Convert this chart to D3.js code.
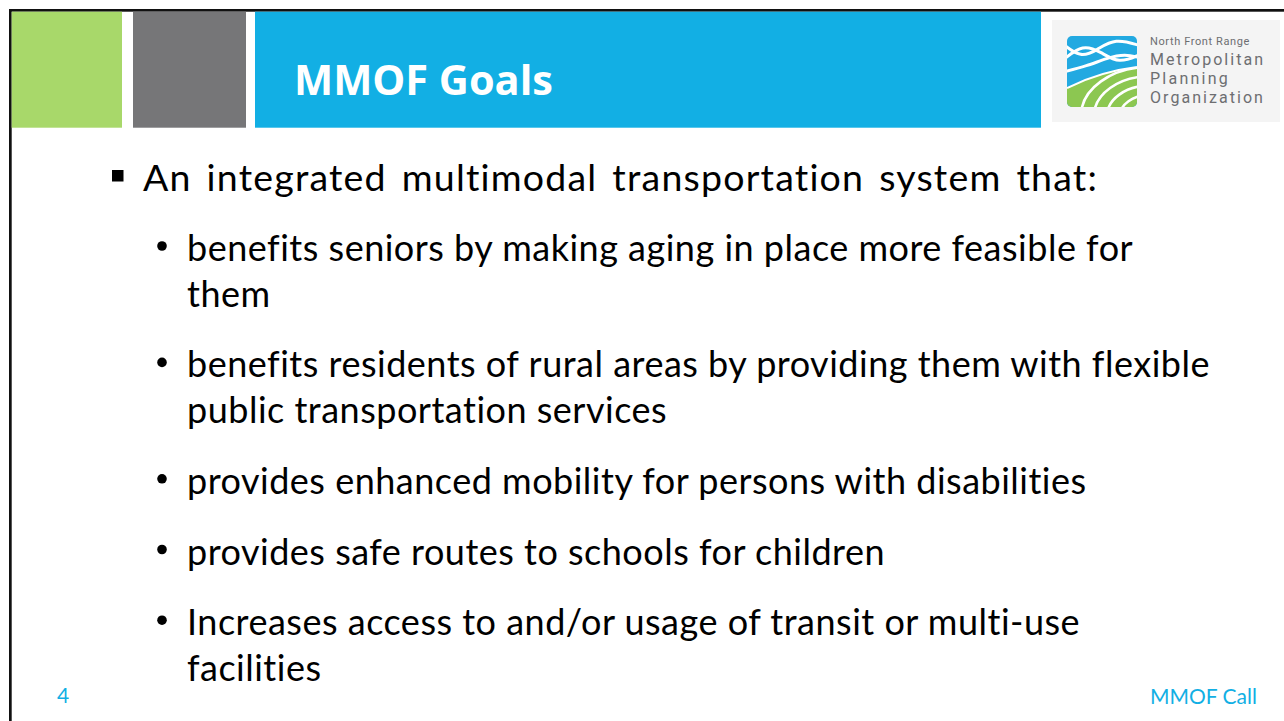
<!DOCTYPE html>
<html>
<head>
<meta charset="utf-8">
<script src="https://cdn.jsdelivr.net/npm/d3@7"></script>
<style>
  body { margin: 0; background: #fff; overflow: hidden; }
  text { font-variant-ligatures: none; }
</style>
</head>
<body>
<script>
const W = 1284, H = 721;

// slide content
const title = "MMOF Goals";
const headline = "An integrated multimodal transportation system that:";
const goals = [
  ["benefits seniors by making aging in place more feasible for", "them"],
  ["benefits residents of rural areas by providing them with flexible", "public transportation services"],
  ["provides enhanced mobility for persons with disabilities"],
  ["provides safe routes to schools for children"],
  ["Increases access to and/or usage of transit or multi-use", "facilities"]
];
const pageNumber = "4";
const footer = "MMOF Call";
const orgLines = ["North Front Range", "Metropolitan", "Planning", "Organization"];

const BLUE = "#12afe4";
const bodyFont = "Lato, 'Open Sans', sans-serif";

const svg = d3.select("body").append("svg")
  .attr("width", W)
  .attr("height", H)
  .attr("viewBox", [0, 0, W, H]);

// fit a text element's font-size so its length equals target
function fitTo(sel, target) {
  const base = 40;
  sel.attr("font-size", base);
  const w = sel.node().getComputedTextLength();
  const size = base * target / w;
  sel.attr("font-size", size);
  return size;
}

// letter-spacing that stretches/squeezes a text to target width
function spacingFor(sel, target) {
  const w = sel.node().getComputedTextLength();
  const n = sel.text().length;
  return (target - w) / n;
}

// frame lines (top + left)
svg.append("rect").attr("x", 9).attr("y", 9).attr("width", W - 9).attr("height", 2.7).attr("fill", "#111");
svg.append("rect").attr("x", 9).attr("y", 9).attr("width", 2.7).attr("height", H - 9).attr("fill", "#111");

// header blocks
const blocks = [
  { x0: 11.7, x1: 122, fill: "#a8d86a" },
  { x0: 133, x1: 246, fill: "#767678" },
  { x0: 255, x1: 1041, fill: BLUE }
];
svg.append("g").selectAll("rect").data(blocks).join("rect")
  .attr("x", d => d.x0)
  .attr("y", 11.7)
  .attr("width", d => d.x1 - d.x0)
  .attr("height", 116)
  .attr("fill", d => d.fill);

const titleText = svg.append("text")
  .attr("x", 294).attr("y", 95)
  .attr("fill", "#fff")
  .attr("font-family", "'Open Sans', sans-serif")
  .attr("font-weight", 700)
  .text(title);
fitTo(titleText, 259);

// logo
const logo = svg.append("g");
logo.append("rect").attr("x", 1052).attr("y", 20).attr("width", 228).attr("height", 102).attr("fill", "#f4f4f4");

const defs = svg.append("defs");
defs.append("clipPath").attr("id", "logoClip")
  .append("rect").attr("width", 70).attr("height", 71).attr("rx", 5);
const greenPath = "M0,52 C20,42 45,34 70,31 L70,71 L0,71 Z";
defs.append("clipPath").attr("id", "greenClip")
  .append("path").attr("d", greenPath);

const mark = logo.append("g").attr("transform", "translate(1067,36)")
  .append("g").attr("clip-path", "url(#logoClip)");
mark.append("rect").attr("width", 70).attr("height", 71).attr("fill", "#22a9e1");

const line = d3.line().curve(d3.curveBasis);
const waves = [
  [[-4, 8], [14, 22], [30, 14], [48, 2], [74, 10]],
  [[-4, 24], [16, 8], [34, 16], [52, 28], [74, 18]],
  [[-4, 36], [20, 30], [40, 22], [58, 18], [74, 22]]
];
mark.append("g").selectAll("path").data(waves).join("path")
  .attr("d", line)
  .attr("fill", "none")
  .attr("stroke", "#fff")
  .attr("stroke-width", 3);

mark.append("path").attr("d", greenPath).attr("fill", "#8cc751");
const rows = [14, 27, 40, 53];
mark.append("g").attr("clip-path", "url(#greenClip)")
  .selectAll("ellipse").data(rows).join("ellipse")
  .attr("cx", 82).attr("cy", 80)
  .attr("rx", d => 82 - d)
  .attr("ry", d => (82 - d) * 0.72)
  .attr("fill", "none")
  .attr("stroke", "#fff")
  .attr("stroke-width", 2.6);
mark.append("path").attr("d", "M0,52 C20,42 45,34 70,31")
  .attr("fill", "none").attr("stroke", "#fff").attr("stroke-width", 2);

const orgTargets = [100, 115, 80, 115];
const orgBase = [45, 64.5, 83.5, 102.5];
const orgSize = [11, 16, 16, 16];
logo.append("g").selectAll("text").data(orgLines).join("text")
  .attr("x", 1150)
  .attr("y", (d, i) => orgBase[i])
  .attr("fill", "#6d6e71")
  .attr("font-family", "Roboto, sans-serif")
  .attr("font-size", (d, i) => orgSize[i])
  .text(d => d)
  .each(function (d, i) {
    const s = d3.select(this);
    s.attr("letter-spacing", spacingFor(s, orgTargets[i]));
  });

// headline bullet
const bodySize = 36;
svg.append("rect").attr("x", 112).attr("y", 170).attr("width", 11.5).attr("height", 11.5).attr("fill", "#000");
const head = svg.append("text")
  .attr("x", 143).attr("y", 191)
  .attr("fill", "#000")
  .attr("font-family", bodyFont)
  .attr("font-size", 37.5)
  .text(headline);
// spread what is still missing mostly over letters, a little over word gaps
{
  const extra = 955 - head.node().getComputedTextLength();
  const nChars = headline.length;
  const nSpaces = headline.split(" ").length - 1;
  head.attr("letter-spacing", extra * 0.75 / nChars)
    .attr("word-spacing", extra * 0.25 / nSpaces);
}

// goal items
const lineStep = 45.7, itemGap = 25;
let y = 261;
const flat = [];
goals.forEach(item => {
  item.forEach((t, j) => { flat.push({ t, y, first: j === 0 }); y += lineStep; });
  y += itemGap;
});

const body = svg.append("g");
const bodyText = body.selectAll("text").data(flat).join("text")
  .attr("x", 187)
  .attr("y", d => d.y)
  .attr("fill", "#000")
  .attr("font-family", bodyFont)
  .attr("font-size", bodySize)
  .text(d => d.t);
// one spacing for all items, set by the widest line
const widest = bodyText.filter(d => d.t === goals[1][0]);
const ls = spacingFor(widest, 1023);
bodyText.attr("letter-spacing", ls);

body.selectAll("circle").data(flat.filter(d => d.first)).join("circle")
  .attr("cx", 162)
  .attr("cy", d => d.y - 15)
  .attr("r", 4.8)
  .attr("fill", "#000");

// footer
const foot = svg.append("text")
  .attr("x", 1150).attr("y", 704)
  .attr("fill", BLUE)
  .attr("font-family", bodyFont)
  .text(footer);
const footSize = fitTo(foot, 107);
svg.append("text")
  .attr("x", 57).attr("y", 703)
  .attr("fill", BLUE)
  .attr("font-family", bodyFont)
  .attr("font-size", footSize)
  .text(pageNumber);
</script>
</body>
</html>
